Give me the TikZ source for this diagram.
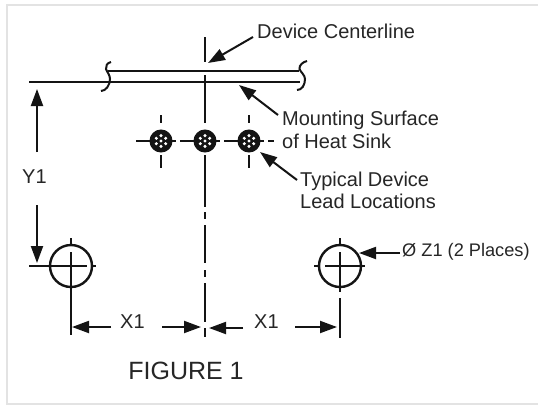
\documentclass[tikz,border=0pt]{standalone}
\usepackage{fontspec}
\setmainfont{Liberation Sans}
\usetikzlibrary{arrows.meta,calc}
\definecolor{ink}{HTML}{141414}
\definecolor{txt}{HTML}{262626}
\tikzset{
  part/.style={draw=ink,line width=2pt,line cap=butt},
  arrowline/.style={draw=ink,line width=2pt,-{Triangle[length=17pt,width=12pt]}},
  lbl/.style={inner sep=0pt,anchor=west,text=txt,font=\fontsize{20}{20}\selectfont},
  zlbl/.style={lbl,font=\fontsize{18.2}{18.2}\selectfont},
  figlbl/.style={inner sep=0pt,text=txt,font=\fontsize{25}{25}\selectfont},
  hole/.style={circle,draw=ink,line width=2.4pt,minimum size=42pt,inner sep=0pt},
  lead/.style={circle,draw=ink,fill=ink,line width=2pt,minimum size=21pt,inner sep=0pt},
  leaddot/.style={fill=white,circle,minimum size=3.4pt,inner sep=0pt},
}
\begin{document}
\begin{tikzpicture}[x=1pt,y=-1pt]
\useasboundingbox (0,0) rectangle (538,405);
\fill[white] (0,0) rectangle (538,405);
\draw[draw=black!11,line width=2pt] (538,5) -- (7,5) -- (7,404) -- (538,404);

% labels
\node[lbl] (dev) at (257,31) {Device Centerline};
\node[lbl] (mnt1) at (282,120) {Mounting Surface};
\node[lbl] (mnt2) at (282,141) {of Heat Sink};
\node[lbl] (typ1) at (300,181) {Typical Device};
\node[lbl] (typ2) at (300,201) {Lead Locations};
\node[lbl] (yone) at (22,177) {Y1};
\node[lbl] (xa) at (120,322) {X1};
\node[lbl] (xb) at (254,322) {X1};
\node[zlbl] (zone) at (402,252) {Ø Z1 (2 Places)};
\node[figlbl] (fig) at (186,371) {FIGURE 1};

% centreline
\draw[part] (205,37) -- (205,62);
\draw[part] (205,75) -- (205,123);
\draw[part] (205,157) -- (205,207);
\foreach \a/\b in {212/219,225/263,270/277,283/322,328/337}
  \draw[part] (205,\a) -- (205,\b);

% heat sink
\draw[part] (29,82) -- (300,82);
\draw[part] (108,71) -- (299,71);
\draw[part] (111,62) .. controls (107,63) and (105.5,66) .. (106,69) .. controls (107,72) and (110,75) .. (110,79) .. controls (110,85) and (106,91) .. (101,91);
\draw[part] (307,61) .. controls (303,62) and (299,65) .. (299.5,69) .. controls (300.5,72) and (305,75) .. (305,79) .. controls (305,85) and (302,90) .. (297,90);

% leads
\foreach \n/\x in {la/161,lb/205,lc/249}{
  \node[lead] (\n) at (\x,141) {};
  \foreach \t in {30,90,...,330}
    \node[leaddot] at ($(\n)+(\t:5.4)$) {};
  \node[leaddot] at (\n) {};
  \draw[part] (\x-25,141) -- (\x-9,141);
  \draw[part] (\x+9,141) -- (\x+15,141);
  \draw[part] (\x,155) -- (\x,168);
}
\draw[part] (161,115) -- (161,123);
\draw[part] (249,115) -- (249,123);
\draw[part] (268,141) -- (274,141);

% holes
\node[hole] (hl) at (71,266) {};
\node[hole] (hr) at (340,266) {};
\draw[part] (29,266) -- (87,266);
\draw[part] (92,266) -- (96,266);
\draw[part] (71,238) -- (71,244);
\draw[part] (71,252) -- (71,335);
\draw[part] (314,266) -- (319,266);
\draw[part] (325,266) -- (365,266);
\draw[part] (340,238) -- (340,244);
\draw[part] (340,252) -- (340,292);
\draw[part] (340,298) -- (340,338);

% leaders
\coordinate (dt) at (253,37);  \coordinate (dh) at (208,63);
\coordinate (mt) at (278,115); \coordinate (mh) at (239,85);
\coordinate (tt) at (297,180); \coordinate (th) at (260,152);
\coordinate (zt) at (400,253); \coordinate (zh) at (359,253);
\draw[arrowline] (dt) -- (dh);
\draw[arrowline] (mt) -- (mh);
\draw[arrowline] (tt) -- (th);
\draw[arrowline] (zt) -- (zh);

% dimensions
\coordinate (ya) at (37,152);  \coordinate (yb) at (37,89);
\coordinate (yc) at (37,205);  \coordinate (yd) at (37,263);
\draw[arrowline] (ya) -- (yb);
\draw[arrowline] (yc) -- (yd);
\coordinate (a1) at (111,327); \coordinate (a2) at (72,327);
\coordinate (a3) at (162,327); \coordinate (a4) at (201,327);
\coordinate (a5) at (243,328); \coordinate (a6) at (209,328);
\coordinate (a7) at (295,327); \coordinate (a8) at (337,327);
\draw[arrowline] (a1) -- (a2);
\draw[arrowline] (a3) -- (a4);
\draw[arrowline] (a5) -- (a6);
\draw[arrowline] (a7) -- (a8);
\end{tikzpicture}
\end{document}
